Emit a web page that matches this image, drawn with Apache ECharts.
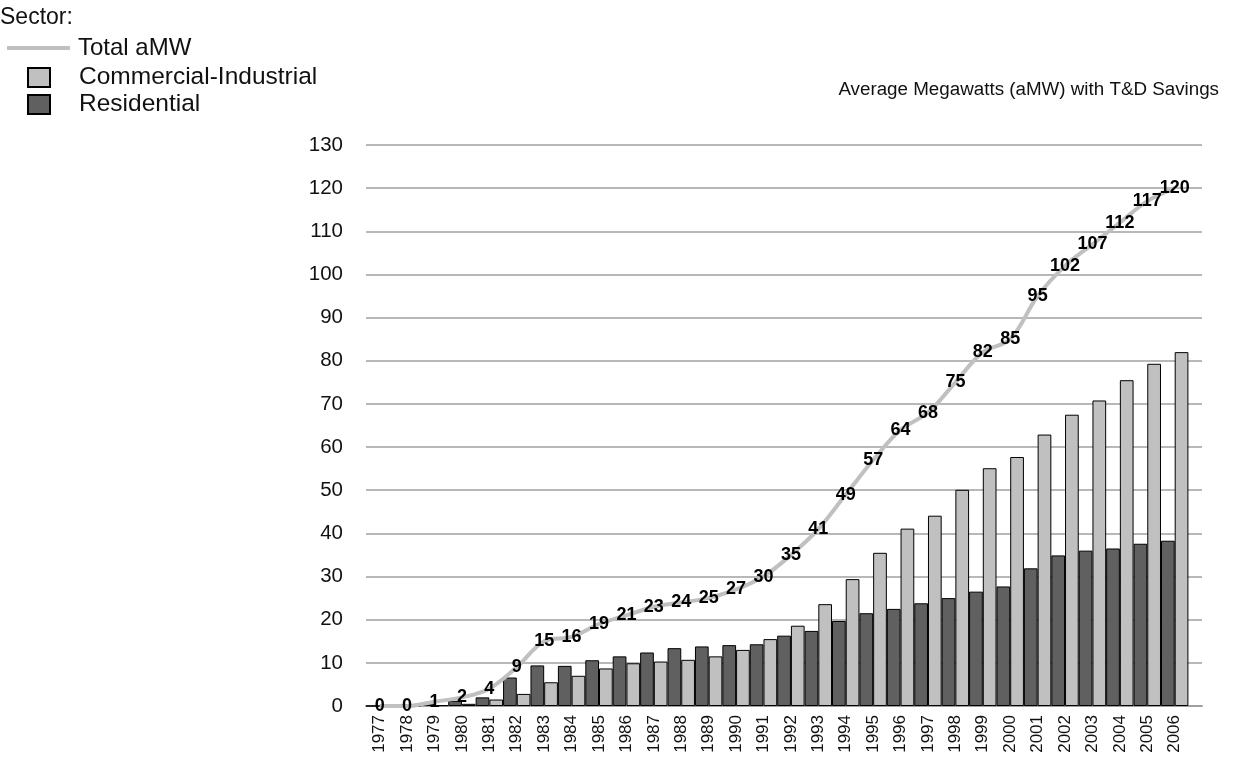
<!DOCTYPE html>
<html>
<head>
<meta charset="utf-8">
<title>Average Megawatts (aMW) with T&amp;D Savings</title>
<script src="https://cdn.jsdelivr.net/npm/echarts@6/dist/echarts.min.js"></script>
<style>
  html, body { margin: 0; padding: 0; background: #ffffff; }
  #chart { width: 1233px; height: 759px; }
</style>
</head>
<body>
<div id="chart"></div>
<script>
// Savings by year, in average megawatts
const years = ['1977','1978','1979','1980','1981','1982','1983','1984','1985','1986',
  '1987','1988','1989','1990','1991','1992','1993','1994','1995','1996',
  '1997','1998','1999','2000','2001','2002','2003','2004','2005','2006'];

const residential = [0, 0, 0.5, 1.2, 2.0, 6.6, 9.4, 9.3, 10.6, 11.5,
  12.4, 13.4, 13.8, 14.1, 14.3, 16.3, 17.4, 19.7, 21.5, 22.5,
  23.8, 25.0, 26.5, 27.7, 31.9, 34.9, 36.0, 36.5, 37.6, 38.3];

const commercialIndustrial = [0, 0, 0.2, 0.5, 1.5, 2.8, 5.5, 7.0, 8.7, 9.9,
  10.3, 10.7, 11.5, 13.0, 15.5, 18.6, 23.6, 29.4, 35.5, 41.1,
  44.1, 50.1, 55.1, 57.7, 62.9, 67.5, 70.8, 75.5, 79.3, 82.0];

const totalAMW = [0, 0, 1, 2, 4, 9, 15, 16, 19, 21,
  23, 24, 25, 27, 30, 35, 41, 49, 57, 64,
  68, 75, 82, 85, 95, 102, 107, 112, 117, 120];

const FONT = '"Liberation Sans", Arial, Helvetica, sans-serif';
const chart = echarts.init(document.getElementById('chart'), null, { renderer: 'canvas' });

chart.setOption({
  animation: false,
  backgroundColor: '#ffffff',
  textStyle: { fontFamily: FONT },
  title: [
    {
      text: 'Sector:',
      left: 0, top: 6, padding: 0,
      textStyle: { fontFamily: FONT, fontSize: 23, fontWeight: 'normal', color: '#111' }
    },
    {
      text: 'Average Megawatts (aMW) with T&D Savings',
      right: 14, top: 80, padding: 0,
      textStyle: { fontFamily: FONT, fontSize: 18.8, fontWeight: 'normal', color: '#111' }
    }
  ],
  legend: [
    {
      orient: 'vertical',
      left: 7, top: 36, padding: 0,
      itemWidth: 63, itemHeight: 4,
      textStyle: { fontFamily: FONT, fontSize: 24, color: '#111', lineHeight: 24, padding: [0, 0, 0, 3] },
      data: [{ name: 'Total aMW', icon: 'rect', itemStyle: { color: '#c0c0c0', borderWidth: 0 } }]
    },
    {
      orient: 'vertical',
      left: 27, top: 65, padding: 0,
      itemWidth: 22, itemHeight: 19,
      itemGap: 2,
      textStyle: { fontFamily: FONT, fontSize: 24.5, color: '#111', lineHeight: 24, padding: [0, 0, 0, 24] },
      data: [
        { name: 'Commercial-Industrial', icon: 'rect' },
        { name: 'Residential', icon: 'rect' }
      ]
    }
  ],
  grid: [
    // frame carrying the value scale and gridlines
    { left: 366, right: 31, top: 145, bottom: 53, containLabel: false },
    // band holding the yearly bars and total line
    { left: 366, right: 44.6, top: 145, bottom: 53, containLabel: false }
  ],
  xAxis: [
    {
      gridIndex: 0,
      type: 'category',
      data: [''],
      axisLine: { show: true, lineStyle: { color: '#a0a0a0', width: 2 } },
      axisTick: { show: false },
      axisLabel: { show: false }
    },
    {
      gridIndex: 1,
      type: 'category',
      data: years,
      axisLine: { show: false },
      axisTick: { show: false },
      axisLabel: {
        rotate: 90,
        margin: 9,
        fontFamily: FONT,
        fontSize: 17,
        color: '#111',
        interval: 0
      }
    }
  ],
  yAxis: [
    {
      gridIndex: 0,
      type: 'value',
      min: 0, max: 130, interval: 10,
      axisLine: { show: false },
      axisTick: { show: false },
      axisLabel: { margin: 23, fontFamily: FONT, fontSize: 20.5, color: '#111' },
      splitLine: { show: true, lineStyle: { color: '#a0a0a0', width: 1.5 } }
    },
    {
      gridIndex: 1,
      type: 'value',
      min: 0, max: 130, interval: 10,
      show: false,
      splitLine: { show: false }
    }
  ],
  series: [
    {
      name: 'Residential',
      type: 'bar',
      xAxisIndex: 1, yAxisIndex: 1,
      data: residential,
      barGap: '0%',
      barCategoryGap: '0%',
      itemStyle: { color: '#606060', borderColor: '#000000', borderWidth: 1 },
      z: 2
    },
    {
      name: 'Commercial-Industrial',
      type: 'bar',
      xAxisIndex: 1, yAxisIndex: 1,
      data: commercialIndustrial,
      barGap: '0%',
      barCategoryGap: '0%',
      itemStyle: { color: '#c0c0c0', borderColor: '#000000', borderWidth: 1 },
      z: 2
    },
    {
      name: 'Total aMW',
      type: 'line',
      xAxisIndex: 1, yAxisIndex: 1,
      data: totalAMW,
      smooth: 0.35,
      symbol: 'circle',
      symbolSize: 1,
      showSymbol: true,
      itemStyle: { color: 'rgba(0,0,0,0)' },
      lineStyle: { color: '#c0c0c0', width: 4 },
      label: {
        show: true,
        position: 'inside',
        fontFamily: FONT,
        fontSize: 18,
        fontWeight: 'bold',
        color: '#000000'
      },
      z: 5
    }
  ]
});
</script>
</body>
</html>
